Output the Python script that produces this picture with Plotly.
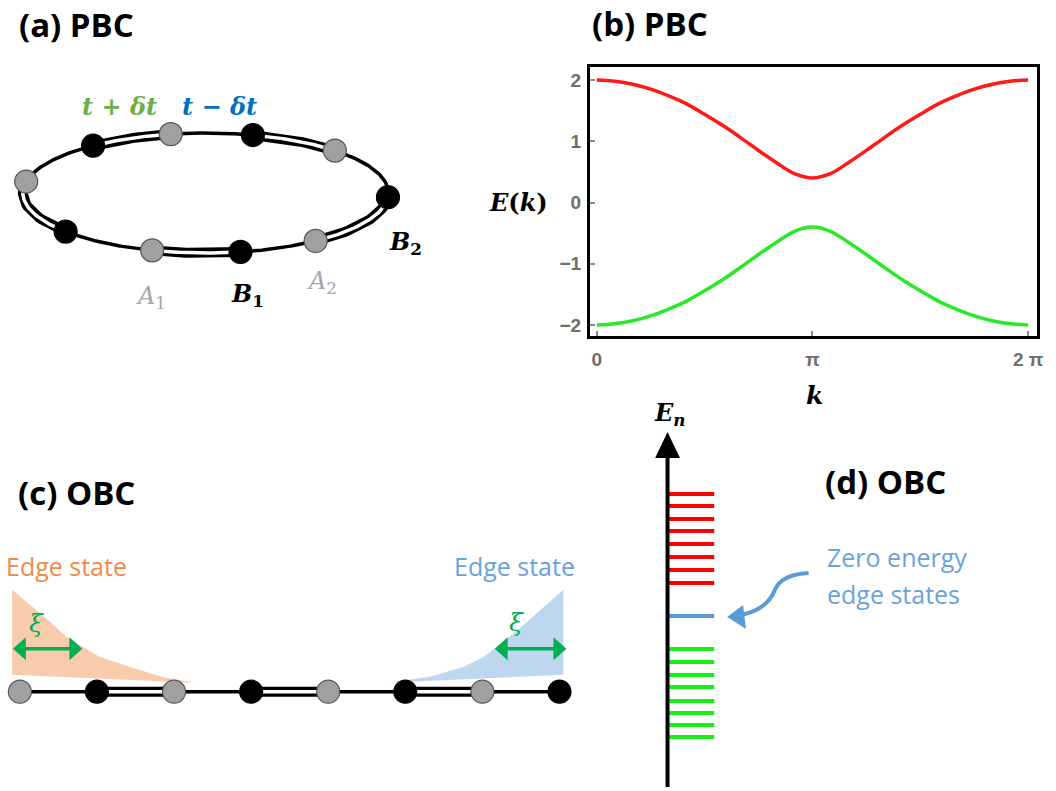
import numpy as np
import plotly.graph_objects as go

W, H = 1056, 791

# ---------------- data ----------------
# (b) band structure E(k)
k_vals = [0.000, 0.262, 0.524, 0.785, 1.047, 1.309, 1.571, 1.833, 2.094, 2.356, 2.618, 2.880, 3.142,
          3.403, 3.665, 3.927, 4.189, 4.451, 4.712, 4.974, 5.236, 5.498, 5.760, 6.021, 6.283]
E_upper = [2.00, 1.98, 1.93, 1.85, 1.74, 1.61, 1.44, 1.26, 1.06, 0.85, 0.65, 0.47, 0.40,
           0.47, 0.65, 0.85, 1.06, 1.26, 1.44, 1.61, 1.74, 1.85, 1.93, 1.98, 2.00]
E_lower = [-2.00, -1.98, -1.93, -1.85, -1.74, -1.61, -1.44, -1.26, -1.06, -0.85, -0.65, -0.47, -0.40,
           -0.47, -0.65, -0.85, -1.06, -1.26, -1.44, -1.61, -1.74, -1.85, -1.93, -1.98, -2.00]
k_tickvals = [0, 3.1416, 6.2832]
k_ticktext = ["0", "π", "2 π"]
E_tickvals = [-2, -1, 0, 1, 2]
E_ticktext = ["−2", "−1", "0", "1", "2"]

# (a) ring of sites (angle around the ring, degrees) and sublattice
ring_angles_deg = [169, 128, 101, 75, 45, -4, -53, -79, -107, -140]
ring_types = ["A", "B", "A", "B", "A", "B", "A", "B", "A", "B"]

# (c) open chain: site index and sublattice
chain_sites = [0, 1, 2, 3, 4, 5, 6, 7]
chain_types = ["A", "B", "A", "B", "A", "B", "A", "B"]
# edge-state envelopes (site coordinate, amplitude)
left_env_x = [-0.10, 0.13, 0.39, 0.60, 0.81, 1.03, 1.46, 1.89, 2.28]
left_env_amp = [1.02, 0.87, 0.70, 0.55, 0.45, 0.35, 0.24, 0.14, 0.09]
left_env_base = [(2.28, 0.09), (-0.10, 0.17)]
right_env_x = [4.77, 5.32, 5.76, 6.02, 6.19, 6.40, 6.61, 7.05]
right_env_amp = [0.09, 0.15, 0.25, 0.35, 0.45, 0.58, 0.72, 1.02]
right_env_base = [(7.05, 0.17), (4.77, 0.09)]
# decay-length arrows: (start site, end site, amplitude)
xi_left = (-0.09, 0.81, 0.43)
xi_right = (6.16, 7.09, 0.43)

# (d) OBC energy levels (arbitrary units)
red_levels = [12.2, 11.0, 9.7, 8.5, 7.2, 5.9, 4.6, 3.3]
zero_levels = [0.0]
green_levels = [-3.3, -4.6, -5.9, -7.1, -8.5, -9.7, -10.9, -12.1]

# ---------------- geometry / style ----------------
RING_C = (207, 193)
RING_A, RING_B = 184, 60
CHAIN_X0, CHAIN_DX, CHAIN_Y0, AMP_PX = 20, 77.6, 691.7, 100.0
LEVEL_X = (672, 719)
GREY = "#A0A0A0"
GREY_EDGE = "#555555"
XI_GREEN = "#00B050"

fig = go.Figure()

# ---- panel (b) ----
fig.add_trace(go.Scatter(x=k_vals, y=E_upper, mode="lines", xaxis="x", yaxis="y",
                         line=dict(color="rgb(255,25,25)", width=3.5, shape="spline"), hoverinfo="skip"))
fig.add_trace(go.Scatter(x=k_vals, y=E_lower, mode="lines", xaxis="x", yaxis="y",
                         line=dict(color="rgb(40,232,40)", width=3.5, shape="spline"), hoverinfo="skip"))


# ---- panel (a) ring ----
def ring_xy(deg):
    t = np.radians(np.asarray(deg, dtype=float))
    return RING_C[0] + RING_A * np.cos(t), RING_C[1] - RING_B * np.sin(t)


n = len(ring_angles_deg)
single_x, single_y, double_x, double_y = [], [], [], []
for i in range(n):
    a1 = ring_angles_deg[i]
    a2 = ring_angles_deg[(i + 1) % n]
    if a2 > a1:
        a2 -= 360
    xs, ys = ring_xy(np.linspace(a1, a2, 40))
    if ring_types[i] == "B":
        double_x += list(xs) + [None]
        double_y += list(ys) + [None]
    else:
        single_x += list(xs) + [None]
        single_y += list(ys) + [None]

fig.add_trace(go.Scatter(x=single_x, y=single_y, mode="lines", xaxis="x2", yaxis="y2",
                         line=dict(color="black", width=3.5), hoverinfo="skip"))
fig.add_trace(go.Scatter(x=double_x, y=double_y, mode="lines", xaxis="x2", yaxis="y2",
                         line=dict(color="black", width=10), hoverinfo="skip"))
fig.add_trace(go.Scatter(x=double_x, y=double_y, mode="lines", xaxis="x2", yaxis="y2",
                         line=dict(color="white", width=3.5), hoverinfo="skip"))
rx, ry = ring_xy(ring_angles_deg)
fig.add_trace(go.Scatter(x=rx, y=ry, mode="markers", xaxis="x2", yaxis="y2",
                         marker=dict(size=23, color=[GREY if t == "A" else "black" for t in ring_types],
                                     line=dict(color=[GREY_EDGE if t == "A" else "black" for t in ring_types], width=1.2)),
                         hoverinfo="skip"))


# ---- panel (d) levels ----
def level_trace(levels, color):
    xs, ys = [], []
    for e in levels:
        xs += [LEVEL_X[0], LEVEL_X[1], None]
        ys += [e, e, None]
    return go.Scatter(x=xs, y=ys, mode="lines", xaxis="x3", yaxis="y3",
                      line=dict(color=color, width=4), hoverinfo="skip")


fig.add_trace(level_trace(red_levels, "rgb(255,0,0)"))
fig.add_trace(level_trace(zero_levels, "#5B9BD5"))
fig.add_trace(level_trace(green_levels, "rgb(20,240,20)"))

# ---- panel (c) chain ----
lx = left_env_x + [p[0] for p in left_env_base]
ly = left_env_amp + [p[1] for p in left_env_base]
fig.add_trace(go.Scatter(x=lx, y=ly, mode="lines", fill="toself", fillcolor="#F8CBAD",
                         line=dict(width=0, color="#F8CBAD"), xaxis="x4", yaxis="y4", hoverinfo="skip"))
rxe = right_env_x + [p[0] for p in right_env_base]
rye = right_env_amp + [p[1] for p in right_env_base]
fig.add_trace(go.Scatter(x=rxe, y=rye, mode="lines", fill="toself", fillcolor="#BDD7EE",
                         line=dict(width=0, color="#BDD7EE"), xaxis="x4", yaxis="y4", hoverinfo="skip"))

cs_x, cs_y, cd_x, cd_y = [], [], [], []
for i in range(len(chain_sites) - 1):
    seg_x = [chain_sites[i], chain_sites[i + 1], None]
    if chain_types[i] == "B":
        cd_x += seg_x
        cd_y += [0, 0, None]
    else:
        cs_x += seg_x
        cs_y += [0, 0, None]
fig.add_trace(go.Scatter(x=cs_x, y=cs_y, mode="lines", xaxis="x4", yaxis="y4",
                         line=dict(color="black", width=3.5), hoverinfo="skip"))
fig.add_trace(go.Scatter(x=cd_x, y=cd_y, mode="lines", xaxis="x4", yaxis="y4",
                         line=dict(color="black", width=10), hoverinfo="skip"))
fig.add_trace(go.Scatter(x=cd_x, y=cd_y, mode="lines", xaxis="x4", yaxis="y4",
                         line=dict(color="white", width=3.5), hoverinfo="skip"))
fig.add_trace(go.Scatter(x=chain_sites, y=[0] * len(chain_sites), mode="markers", xaxis="x4", yaxis="y4",
                         marker=dict(size=23, color=[GREY if t == "A" else "black" for t in chain_types],
                                     line=dict(color=[GREY_EDGE if t == "A" else "black" for t in chain_types], width=1.2)),
                         hoverinfo="skip"))

# ---------------- layout ----------------
tickfont = dict(family="Liberation Sans", size=19, color="#6e6e6e", weight="bold")
px_ax = dict(visible=False, showgrid=False, zeroline=False, fixedrange=True)
x_scale = (1035 - 600.7) / 6.2832
y_scale = (325 - 80) / 4.0
left_in, right_in, top_in, bot_in = 593.8, 1043.5, 66.5, 335.8

fig.update_layout(
    width=W, height=H,
    margin=dict(l=0, r=0, t=0, b=0),
    paper_bgcolor="white", plot_bgcolor="rgba(0,0,0,0)",
    showlegend=False,
    xaxis=dict(domain=[left_in / W, right_in / W], anchor="y",
               range=[-(600.7 - left_in) / x_scale, 6.2832 + (right_in - 1035) / x_scale],
               tickvals=k_tickvals, ticktext=k_ticktext, ticks="inside", ticklen=5, tickwidth=1.5,
               tickcolor="#888888", showline=True, linecolor="black", linewidth=3, mirror=True,
               showgrid=False, zeroline=False, tickfont=tickfont, ticklabelstandoff=4, fixedrange=True),
    yaxis=dict(domain=[1 - bot_in / H, 1 - top_in / H], anchor="x",
               range=[-2 - (bot_in - 325) / y_scale, 2 + (80 - top_in) / y_scale],
               tickvals=E_tickvals, ticktext=E_ticktext, ticks="inside", ticklen=5, tickwidth=1.5,
               tickcolor="#888888", showline=True, linecolor="black", linewidth=3, mirror=True,
               showgrid=False, zeroline=False, tickfont=tickfont, ticklabelstandoff=2, fixedrange=True),
    xaxis2=dict(domain=[0, 1], range=[0, W], anchor="y2", **px_ax),
    yaxis2=dict(domain=[0, 1], range=[H, 0], anchor="x2", **px_ax),
    xaxis3=dict(domain=[0, 1], range=[0, W], anchor="y3", **px_ax),
    yaxis3=dict(domain=[0, 1], range=[(616 - H) / 10.0, 616 / 10.0], anchor="x3", **px_ax),
    xaxis4=dict(domain=[0, 1], range=[-CHAIN_X0 / CHAIN_DX, (W - CHAIN_X0) / CHAIN_DX], anchor="y4", **px_ax),
    yaxis4=dict(domain=[0, 1], range=[(CHAIN_Y0 - H) / AMP_PX, CHAIN_Y0 / AMP_PX], anchor="x4", **px_ax),
)

# ---------------- shapes ----------------
shapes = [
    # (d) energy axis
    dict(type="line", xref="x2", yref="y2", x0=672, y0=456, x1=672, y1=787,
         line=dict(color="black", width=4)),
    dict(type="path", xref="x2", yref="y2", path="M 672 432 L 659.5 458 L 684.5 458 Z",
         fillcolor="black", line=dict(width=0)),
    # curved arrow to zero-energy states
    dict(type="path", xref="x2", yref="y2",
         path="M 814 573 C 796 574, 784 580, 780 590 C 775 603, 765 611, 746 615",
         line=dict(color="#5B9BD5", width=4)),
    dict(type="path", xref="x2", yref="y2", path="M 732 617 L 748 605 L 751 629 Z",
         fillcolor="#5B9BD5", line=dict(width=0)),
]
# decay-length double arrows (converted from site units to pixels)
for (s0, s1, amp) in (xi_left, xi_right):
    xa = CHAIN_X0 + CHAIN_DX * s0
    xb = CHAIN_X0 + CHAIN_DX * s1
    yy = CHAIN_Y0 - AMP_PX * amp
    hl, hh = 13, 11.5
    shapes.append(dict(type="line", xref="x2", yref="y2", x0=xa + hl - 1, y0=yy, x1=xb - hl + 1, y1=yy,
                       line=dict(color=XI_GREEN, width=3.5)))
    shapes.append(dict(type="path", xref="x2", yref="y2",
                       path=f"M {xa} {yy} L {xa + hl} {yy - hh} L {xa + hl} {yy + hh} Z",
                       fillcolor=XI_GREEN, line=dict(width=0)))
    shapes.append(dict(type="path", xref="x2", yref="y2",
                       path=f"M {xb} {yy} L {xb - hl} {yy - hh} L {xb - hl} {yy + hh} Z",
                       fillcolor=XI_GREEN, line=dict(width=0)))
fig.update_layout(shapes=shapes)


# ---------------- annotations ----------------
def txt(x, y, text, size, color, family, xanchor="center", yanchor="middle"):
    return dict(x=x, y=y, xref="x2", yref="y2", text=text, showarrow=False,
                font=dict(family=family, size=size, color=color),
                xanchor=xanchor, yanchor=yanchor)


TITLE_F = "Open Sans"
SERIF = "DejaVu Serif"
ann = [
    txt(77, 24, "<b>(a) PBC</b>", 33, "black", TITLE_F),
    txt(654, 23, "<b>(b) PBC</b>", 33, "black", TITLE_F),
    txt(77, 492, "<b>(c) OBC</b>", 33, "black", TITLE_F),
    txt(891, 481, "<b>(d) OBC</b>", 33, "black", TITLE_F),
    txt(120, 106, "<b><i>t</i> + <i>δt</i></b>", 24, "#70AD47", SERIF),
    txt(221, 106, "<b><i>t</i> − <i>δt</i></b>", 24, "#0070C0", SERIF),
    txt(152, 297, "<i>A</i><sub>1</sub>", 24, "#A6A6A6", SERIF),
    txt(249, 295, "<b><i>B</i><sub>1</sub></b>", 24, "black", SERIF),
    txt(324, 282, "<i>A</i><sub>2</sub>", 24, "#A6A6A6", SERIF),
    txt(408, 243, "<b><i>B</i><sub>2</sub></b>", 24, "black", SERIF),
    txt(522, 202, "<b><i>E</i>(<i>k</i>)</b>", 24, "black", SERIF),
    txt(820, 395, "<b><i>k</i></b>", 25, "black", SERIF),
    txt(674, 414, "<b><i>E</i><sub><i>n</i></sub></b>", 24, "black", SERIF),
    txt(67, 566, "Edge state", 25, "#F08A4B", "Open Sans"),
    txt(518, 566, "Edge state", 25, "#6AA3DA", "Open Sans"),
    txt(37, 623, "<i>ξ</i>", 25, XI_GREEN, SERIF),
    txt(520, 622, "<i>ξ</i>", 25, XI_GREEN, SERIF),
    txt(831, 557, "Zero energy", 25, "#6AA3DA", "Open Sans", xanchor="left"),
    txt(831, 594, "edge states", 25, "#6AA3DA", "Open Sans", xanchor="left"),
]
fig.update_layout(annotations=ann)

fig.write_html("out.html")
